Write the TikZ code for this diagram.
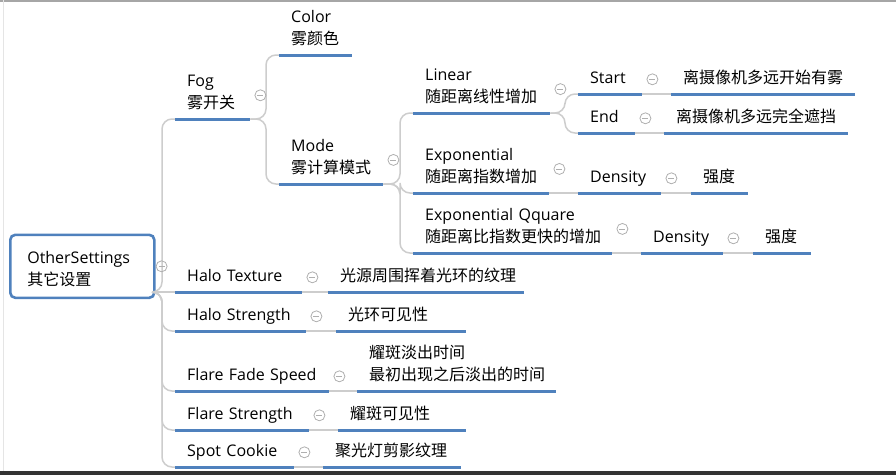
\documentclass[tikz,border=0pt]{standalone}
\usepackage{fontspec}
\setmainfont{Open Sans}
\newfontfamily\cjk{Noto Sans CJK SC}

\definecolor{mapblue}{RGB}{79,129,189}
\definecolor{linkgray}{RGB}{205,205,205}
\definecolor{foldgray}{RGB}{175,175,175}

\tikzset{
  topic/.style={anchor=south west, inner xsep=12pt, inner ysep=3.5pt,
    execute at end node=\strut, align=left, font=\fontsize{16}{22}\selectfont},
  rootbox/.style={draw=mapblue, line width=2.6pt, rounded corners=5pt, inner xsep=17pt,
    align=left, font=\fontsize{16}{22}\selectfont},
  uline/.style={mapblue, line width=3pt},
  link/.style={linkgray, line width=1.5pt, rounded corners=10pt,
    to path={-- ([xshift=-13pt]\tikztotarget |- \tikztostart) |- (\tikztotarget)}},
  straight/.style={linkgray, line width=1.5pt},
  fold/.style={foldgray, line width=0.8pt},
}

\begin{document}
\begin{tikzpicture}[x=1pt, y=-1pt]

  \useasboundingbox (0,0) rectangle (896,475);

  % screen edges
  \draw[gray!70, line width=1.5pt] (0,0.75) -- (896,0.75);
  \draw[gray!20, line width=1pt] (3,0) -- (3,471);
  \fill[black!80] (0,471) rectangle (896,475);

  % central topic
  \node[rootbox, minimum width=142pt, minimum height=63pt, text width=110pt,
    anchor=north west] (root) at (9,233.5) {\rule{0pt}{18pt}OtherSettings\\{\cjk 其它设置}};
  \coordinate (rootout) at (152,292);

  % fog branch
  \node[topic, text width=51pt]  (fog)    at (175,119) {Fog\\{\cjk 雾开关}};
  \node[topic, text width=49pt]  (color)  at (279,55)  {Color\\{\cjk 雾颜色}};
  \node[topic, text width=80pt]  (mode)   at (279,184) {Mode\\{\cjk 雾计算模式}};
  \node[topic, text width=113pt] (linear) at (413,113) {Linear\\{\cjk 随距离线性增加}};
  \node[topic, text width=112pt] (expo)   at (413,193) {Exponential\\{\cjk 随距离指数增加}};
  \node[topic, text width=175pt] (expq)   at (413,253) {Exponential Qquare\\{\cjk 随距离比指数更快的增加}};
  \node[topic, text width=40pt]  (start)  at (578,94)  {Start};
  \node[topic, text width=160pt] (startd) at (671,94)  {\cjk 离摄像机多远开始有雾};
  \node[topic, text width=33pt]  (end)    at (578,133) {End};
  \node[topic, text width=160pt] (endd)   at (664,133) {\cjk 离摄像机多远完全遮挡};
  \node[topic, text width=59pt]  (dens1)  at (578,193) {Density};
  \node[topic, text width=33pt]  (dens1d) at (691,193) {\cjk 强度};
  \node[topic, text width=58pt]  (dens2)  at (641,253) {Density};
  \node[topic, text width=34pt]  (dens2d) at (753,253) {\cjk 强度};

  % halo, flare and spot branches
  \node[topic, text width=103pt] (halot)   at (175,292) {Halo Texture};
  \node[topic, text width=172pt] (halotd)  at (328,292) {\cjk 光源周围挥着光环的纹理};
  \node[topic, text width=107pt] (halos)   at (175,331) {Halo Strength};
  \node[topic, text width=106pt] (halosd)  at (336,331) {\cjk 光环可见性};
  \node[topic, text width=130pt] (flaref)  at (175,391) {Flare Fade Speed};
  \node[topic, text width=175pt] (flarefd) at (357,391) {\cjk 耀斑淡出时间\\\cjk 最初出现之后淡出的时间};
  \node[topic, text width=110pt] (flares)  at (175,430) {Flare Strength};
  \node[topic, text width=104pt] (flaresd) at (338,430) {\cjk 耀斑可见性};
  \node[topic, text width=95pt]  (spot)    at (175,467) {Spot Cookie};
  \node[topic, text width=114pt] (spotd)   at (323,467) {\cjk 聚光灯剪影纹理};

  % connectors
  \foreach \n in {fog,halos,flaref,flares,spot}
    \draw[link] (rootout) to (\n.south west);
  \draw[straight] (rootout) -- (halot.south west);
  \foreach \a/\b in {fog/color,fog/mode,mode/linear,mode/expo,mode/expq,linear/start,linear/end}
    \draw[link] (\a.south east) to (\b.south west);
  \foreach \a/\b in {expo/dens1,start/startd,end/endd,dens1/dens1d,expq/dens2,dens2/dens2d,
      halot/halotd,halos/halosd,flaref/flarefd,flares/flaresd,spot/spotd}
    \draw[straight] (\a.south east) -- (\b.south west);

  % underlines
  \foreach \n in {fog,color,mode,linear,expo,expq,start,startd,end,endd,dens1,dens1d,dens2,dens2d,
      halot,halotd,halos,halosd,flaref,flarefd,flares,flaresd,spot,spotd}
    \draw[uline] (\n.south west) -- (\n.south east);

  % collapse marks
  \draw[fold] ([xshift=6pt]root.east) circle (5.5pt);
  \draw[fold] ([xshift=3pt]root.east) -- ([xshift=9pt]root.east);
  \foreach \n in {fog,mode,linear,expo,expq,start,end,dens1,dens2,halot,halos,flaref,flares,spot} {
    \draw[fold] ([xshift=10pt]\n.east) circle (5.5pt);
    \draw[fold] ([xshift=7pt]\n.east) -- ([xshift=13pt]\n.east);
  }

\end{tikzpicture}
\end{document}
